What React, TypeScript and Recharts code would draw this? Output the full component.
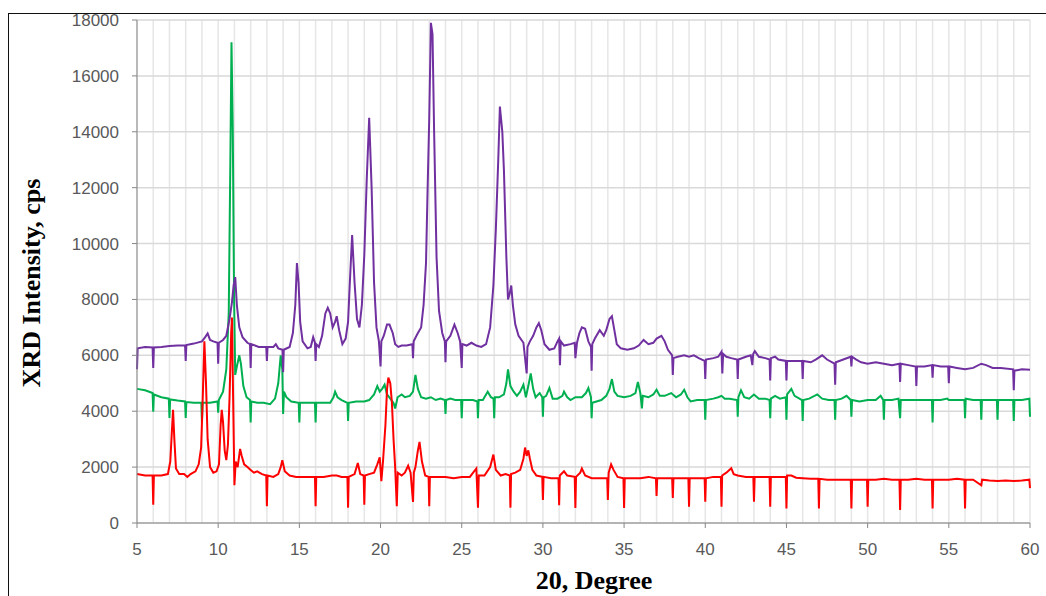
import { LineChart, Line, XAxis, YAxis, CartesianGrid } from "recharts"

// 2-theta (deg) / intensity (cps) pairs
const purplePoints: [number, number][] = [
  [5, 5500], [5.04, 6250], [5.5, 6300], [5.96, 6280], [6.0, 5550], [6.04, 6280], [6.5, 6300], [7.0, 6330],
  [7.5, 6350], [7.96, 6350], [8.0, 5800], [8.04, 6370], [8.5, 6420], [9.0, 6500], [9.2, 6650], [9.35, 6780],
  [9.5, 6550], [9.7, 6500], [9.96, 6450], [10.0, 5700], [10.04, 6450], [10.3, 6550], [10.5, 6700], [10.7, 7300],
  [10.85, 7900], [10.95, 8500], [11.05, 8800], [11.15, 7800], [11.3, 7000], [11.5, 6650], [11.8, 6450], [11.96, 6400],
  [12.0, 5550], [12.04, 6400], [12.5, 6300], [12.96, 6300], [13.0, 5800], [13.04, 6300], [13.4, 6300], [13.55, 6400],
  [13.7, 6250], [13.96, 6200], [14.0, 5400], [14.04, 6200], [14.4, 6300], [14.6, 6800], [14.75, 7800], [14.85, 9300],
  [14.95, 8600], [15.05, 7200], [15.2, 6500], [15.5, 6250], [15.7, 6300], [15.85, 6650], [15.96, 6450], [16.0, 5800],
  [16.04, 6400], [16.2, 6300], [16.4, 6700], [16.6, 7500], [16.75, 7700], [16.9, 7500], [17.05, 7000], [17.2, 7200],
  [17.3, 7400], [17.45, 6900], [17.65, 6400], [17.85, 6600], [18.0, 7200], [18.1, 8500], [18.25, 10300], [18.4, 8600],
  [18.55, 7300], [18.7, 7000], [18.85, 7800], [19.0, 9600], [19.15, 12300], [19.3, 14500], [19.45, 12000], [19.6, 8600],
  [19.75, 7000], [19.9, 6500], [20.0, 5600], [20.05, 6500], [20.2, 6700], [20.4, 7100], [20.55, 7100], [20.75, 6800],
  [20.9, 6400], [21.1, 6300], [21.3, 6350], [21.6, 6350], [21.96, 6400], [22.0, 5900], [22.04, 6500], [22.3, 6800],
  [22.5, 7000], [22.65, 7800], [22.8, 9300], [22.9, 12000], [23.0, 14500], [23.1, 17900], [23.2, 17500], [23.3, 14000],
  [23.45, 9500], [23.6, 7600], [23.8, 6800], [23.96, 6500], [24.0, 5750], [24.04, 6500], [24.3, 6700], [24.55, 7100],
  [24.75, 6800], [24.9, 6500], [25.0, 5550], [25.04, 6400], [25.3, 6350], [25.6, 6450], [25.9, 6350], [26.2, 6300],
  [26.5, 6400], [26.75, 7000], [26.95, 8500], [27.1, 10500], [27.25, 13000], [27.35, 14900], [27.5, 14000], [27.6, 12600],
  [27.75, 9500], [27.85, 8000], [27.95, 8200], [28.05, 8500], [28.15, 7800], [28.3, 7100], [28.5, 6700], [28.8, 6450],
  [29.0, 5350], [29.05, 6300], [29.2, 6500], [29.4, 6700], [29.6, 7000], [29.75, 7150], [29.9, 6900], [30.1, 6400],
  [30.4, 6200], [30.7, 6250], [30.9, 6500], [31.0, 6600], [31.05, 5650], [31.1, 6500], [31.3, 6350], [31.7, 6400],
  [31.96, 6450], [32.0, 5900], [32.1, 6450], [32.25, 6800], [32.4, 7000], [32.6, 6950], [32.8, 6500], [32.96, 6300],
  [33.0, 5450], [33.04, 6400], [33.2, 6600], [33.5, 6900], [33.75, 6700], [33.9, 6900], [34.1, 7300], [34.25, 7400],
  [34.4, 6900], [34.55, 6400], [34.8, 6250], [35.2, 6200], [35.6, 6250], [35.9, 6350], [36.2, 6550], [36.5, 6400],
  [36.8, 6450], [37.0, 6600], [37.3, 6700], [37.5, 6500], [37.7, 6200], [37.96, 6000], [38.0, 5300], [38.04, 5900],
  [38.3, 5950], [38.7, 6000], [39.0, 5950], [39.3, 6000], [39.6, 5900], [39.96, 5800], [40.0, 5150], [40.04, 5850],
  [40.5, 5900], [40.8, 5950], [41.0, 6130], [41.05, 5350], [41.1, 6050], [41.3, 5950], [41.6, 5900], [41.96, 5850],
  [42.0, 5150], [42.04, 5850], [42.5, 5950], [42.8, 6000], [42.9, 5650], [42.95, 6050], [43.05, 6150], [43.3, 5950],
  [43.7, 5900], [43.96, 5850], [44.0, 5100], [44.04, 5900], [44.3, 5950], [44.5, 5850], [44.96, 5800], [45.0, 5100],
  [45.04, 5800], [45.5, 5800], [45.96, 5800], [46.0, 5150], [46.04, 5800], [46.5, 5750], [46.8, 5850], [47.2, 6000],
  [47.5, 5850], [47.96, 5700], [48.0, 4950], [48.04, 5750], [48.5, 5850], [48.96, 5950], [49.0, 5600], [49.04, 5950],
  [49.3, 5850], [49.6, 5750], [50.0, 5700], [50.5, 5750], [51.0, 5700], [51.5, 5650], [51.96, 5700], [52.0, 5050],
  [52.04, 5700], [52.5, 5650], [52.96, 5600], [53.0, 4900], [53.04, 5600], [53.5, 5600], [53.96, 5650], [54.0, 5200],
  [54.04, 5650], [54.5, 5600], [54.96, 5600], [55.0, 5000], [55.04, 5600], [55.5, 5550], [56.0, 5500], [56.5, 5550],
  [57.0, 5700], [57.3, 5650], [57.7, 5550], [58.2, 5550], [58.96, 5500], [59.0, 4750], [59.04, 5450], [59.5, 5500],
  [60, 5480],
]

const greenPoints: [number, number][] = [
  [5, 4800], [5.5, 4750], [5.96, 4650], [6.0, 3980], [6.04, 4600], [6.5, 4500], [6.96, 4450], [7.0, 3760],
  [7.04, 4420], [7.5, 4380], [7.96, 4350], [8.0, 3760], [8.04, 4330], [8.5, 4300], [8.96, 4300], [9.0, 3600],
  [9.04, 4300], [9.5, 4300], [9.96, 4350], [10.0, 3950], [10.04, 4400], [10.3, 4700], [10.5, 5500], [10.65, 7500],
  [10.75, 13000], [10.82, 17200], [10.9, 14000], [10.98, 8000], [11.05, 5300], [11.15, 5600], [11.3, 6000], [11.4, 5700],
  [11.55, 4900], [11.75, 4500], [11.96, 4400], [12.0, 3600], [12.04, 4350], [12.4, 4300], [12.8, 4300], [13.2, 4250],
  [13.5, 4450], [13.7, 5000], [13.85, 6000], [13.95, 5500], [14.0, 3900], [14.05, 4700], [14.2, 4500], [14.5, 4350],
  [14.96, 4300], [15.0, 3600], [15.04, 4300], [15.5, 4300], [15.96, 4300], [16.0, 3600], [16.04, 4300], [16.5, 4300],
  [16.9, 4300], [17.1, 4500], [17.2, 4700], [17.35, 4500], [17.6, 4400], [17.96, 4300], [18.0, 3650], [18.04, 4300],
  [18.5, 4350], [19.0, 4350], [19.3, 4400], [19.6, 4600], [19.8, 4900], [19.95, 4700], [20.1, 4800], [20.25, 4950],
  [20.4, 4600], [20.6, 4450], [20.8, 4300], [20.9, 4100], [21.05, 4500], [21.3, 4600], [21.5, 4500], [21.8, 4550],
  [22.0, 4700], [22.15, 5300], [22.3, 4800], [22.5, 4500], [22.8, 4450], [23.1, 4500], [23.4, 4400], [23.7, 4450],
  [23.96, 4400], [24.0, 3900], [24.04, 4400], [24.3, 4450], [24.6, 4400], [24.96, 4400], [25.0, 3750], [25.04, 4400],
  [25.4, 4400], [25.7, 4400], [25.96, 4350], [26.0, 3750], [26.04, 4400], [26.3, 4400], [26.6, 4700], [26.8, 4500],
  [26.96, 4450], [27.0, 3750], [27.04, 4500], [27.3, 4500], [27.6, 4600], [27.75, 5000], [27.85, 5500], [28.0, 4900],
  [28.2, 4700], [28.4, 4550], [28.6, 4700], [28.8, 4950], [28.95, 4500], [29.1, 4900], [29.25, 5350], [29.4, 4800],
  [29.55, 4500], [29.8, 4650], [29.96, 4500], [30.0, 3800], [30.04, 4500], [30.2, 4550], [30.4, 4830], [30.6, 4450],
  [30.9, 4450], [31.2, 4550], [31.3, 4700], [31.5, 4500], [31.7, 4400], [32.0, 4500], [32.4, 4500], [32.65, 4650],
  [32.8, 4830], [32.96, 4500], [33.0, 3750], [33.04, 4300], [33.3, 4350], [33.6, 4400], [33.9, 4550], [34.1, 4800],
  [34.25, 5150], [34.4, 4700], [34.6, 4550], [35.0, 4500], [35.4, 4550], [35.7, 4650], [35.85, 5050], [36.0, 4650],
  [36.1, 4100], [36.15, 4550], [36.5, 4500], [36.8, 4600], [37.0, 4770], [37.2, 4550], [37.5, 4550], [37.9, 4650],
  [38.2, 4500], [38.5, 4600], [38.7, 4770], [38.9, 4500], [39.1, 4350], [39.5, 4400], [39.96, 4400], [40.0, 3700],
  [40.04, 4400], [40.5, 4450], [40.8, 4500], [41.0, 4550], [41.2, 4450], [41.5, 4450], [41.96, 4400], [42.0, 3800],
  [42.04, 4500], [42.2, 4750], [42.4, 4500], [42.7, 4450], [43.0, 4600], [43.3, 4450], [43.7, 4450], [43.96, 4400],
  [44.0, 3750], [44.04, 4450], [44.3, 4550], [44.6, 4450], [44.96, 4500], [45.0, 3700], [45.04, 4600], [45.3, 4800],
  [45.5, 4550], [45.96, 4400], [46.0, 3650], [46.04, 4400], [46.4, 4450], [46.9, 4600], [47.2, 4450], [47.6, 4400],
  [47.96, 4400], [48.0, 3700], [48.04, 4400], [48.4, 4450], [48.7, 4550], [48.96, 4400], [49.0, 3800], [49.04, 4400],
  [49.5, 4350], [50.0, 4400], [50.5, 4400], [50.8, 4550], [50.96, 4400], [51.0, 3700], [51.04, 4400], [51.5, 4400],
  [51.9, 4450], [52.0, 3750], [52.04, 4400], [52.5, 4400], [53.0, 4400], [53.5, 4400], [53.96, 4400], [54.0, 3600],
  [54.04, 4400], [54.5, 4400], [54.9, 4450], [55.0, 4400], [55.5, 4400], [55.96, 4400], [56.0, 3750], [56.04, 4450],
  [56.5, 4400], [56.96, 4400], [57.0, 3700], [57.04, 4400], [57.5, 4400], [57.96, 4400], [58.0, 3700], [58.04, 4400],
  [58.5, 4400], [58.96, 4400], [59.0, 3650], [59.04, 4400], [59.5, 4400], [59.96, 4450], [60.0, 3800],
]

const redPoints: [number, number][] = [
  [5, 1750], [5.5, 1700], [5.96, 1700], [6.0, 650], [6.04, 1700], [6.5, 1700], [6.9, 1750], [7.05, 2200],
  [7.15, 3300], [7.22, 4050], [7.3, 3000], [7.4, 1950], [7.6, 1750], [7.9, 1750], [8.1, 1650], [8.3, 1750],
  [8.6, 1850], [8.8, 2100], [8.95, 2700], [9.05, 4500], [9.15, 6500], [9.25, 5000], [9.35, 3000], [9.5, 2000],
  [9.7, 1800], [9.9, 1850], [10.05, 2100], [10.15, 3500], [10.22, 4050], [10.3, 3600], [10.4, 2600], [10.5, 2250],
  [10.6, 2800], [10.7, 4500], [10.8, 6800], [10.85, 7350], [10.92, 4500], [11.0, 1350], [11.08, 2200], [11.2, 2000],
  [11.35, 2650], [11.45, 2400], [11.6, 2100], [11.8, 2000], [12.0, 1900], [12.2, 1800], [12.4, 1850], [12.7, 1750],
  [12.96, 1700], [13.0, 600], [13.04, 1700], [13.4, 1650], [13.7, 1750], [13.85, 2000], [13.95, 2250], [14.1, 1850],
  [14.4, 1700], [14.8, 1650], [15.3, 1650], [15.96, 1650], [16.0, 600], [16.04, 1650], [16.5, 1650], [17.0, 1700],
  [17.3, 1700], [17.6, 1650], [17.96, 1650], [18.0, 550], [18.04, 1650], [18.4, 1750], [18.6, 2150], [18.75, 1750],
  [18.96, 1700], [19.0, 650], [19.04, 1700], [19.3, 1750], [19.6, 1800], [19.8, 2100], [19.95, 2350], [20.05, 1500],
  [20.15, 2200], [20.3, 3500], [20.4, 4800], [20.48, 5200], [20.6, 5000], [20.7, 4300], [20.8, 3000], [20.9, 2000],
  [21.0, 600], [21.06, 1800], [21.3, 1700], [21.5, 1800], [21.7, 2050], [21.85, 1800], [22.0, 750], [22.05, 1800],
  [22.15, 2000], [22.3, 2600], [22.4, 2900], [22.55, 2200], [22.75, 1700], [22.96, 1650], [23.0, 600], [23.04, 1650],
  [23.5, 1650], [24.0, 1650], [24.5, 1600], [25.0, 1650], [25.5, 1650], [25.9, 1950], [26.0, 550], [26.05, 1700],
  [26.4, 1700], [26.75, 2000], [26.95, 2450], [27.1, 1900], [27.4, 1700], [27.7, 1750], [27.96, 1700], [28.0, 550],
  [28.04, 1750], [28.3, 1800], [28.6, 1900], [28.8, 2300], [28.9, 2700], [29.0, 2400], [29.1, 2600], [29.2, 2300],
  [29.35, 1900], [29.6, 1700], [29.96, 1650], [30.0, 820], [30.04, 1650], [30.5, 1600], [30.96, 1600], [31.0, 640],
  [31.04, 1700], [31.3, 1850], [31.5, 1700], [31.96, 1650], [32.0, 540], [32.04, 1650], [32.3, 1800], [32.4, 1950],
  [32.6, 1700], [33.0, 1600], [33.5, 1600], [33.96, 1600], [34.0, 820], [34.05, 1800], [34.2, 2100], [34.35, 1900],
  [34.6, 1650], [34.96, 1600], [35.0, 540], [35.04, 1600], [35.5, 1600], [36.0, 1600], [36.5, 1650], [36.96, 1600],
  [37.0, 970], [37.04, 1600], [37.5, 1600], [37.96, 1600], [38.0, 900], [38.04, 1600], [38.5, 1600], [38.96, 1600],
  [39.0, 580], [39.04, 1600], [39.5, 1600], [39.96, 1600], [40.0, 760], [40.04, 1600], [40.5, 1650], [40.96, 1650],
  [41.0, 580], [41.04, 1700], [41.3, 1800], [41.6, 1960], [41.75, 1750], [42.0, 1700], [42.5, 1650], [42.96, 1650],
  [43.0, 760], [43.04, 1650], [43.5, 1650], [43.96, 1650], [44.0, 580], [44.04, 1650], [44.5, 1650], [44.96, 1650],
  [45.0, 520], [45.04, 1700], [45.3, 1700], [45.6, 1620], [46.0, 1600], [46.5, 1580], [46.96, 1580], [47.0, 520],
  [47.04, 1580], [47.5, 1550], [48.0, 1550], [48.5, 1550], [48.96, 1550], [49.0, 520], [49.04, 1550], [49.5, 1550],
  [49.96, 1550], [50.0, 580], [50.04, 1550], [50.5, 1550], [51.0, 1580], [51.5, 1550], [51.96, 1550], [52.0, 470],
  [52.04, 1550], [52.5, 1550], [53.0, 1580], [53.5, 1550], [53.96, 1550], [54.0, 520], [54.04, 1550], [54.5, 1550],
  [55.0, 1550], [55.5, 1580], [55.96, 1550], [56.0, 520], [56.04, 1550], [56.5, 1550], [57.0, 1350], [57.05, 1550],
  [57.5, 1520], [58.0, 1500], [58.5, 1520], [59.0, 1500], [59.5, 1520], [59.96, 1550], [60.0, 1250],
]

const xMajorTicks = [5, 10, 15, 20, 25, 30, 35, 40, 45, 50, 55, 60]
const xMinorTicks = [
  5, 6, 7, 8, 9, 10, 11, 12, 13, 14, 15, 16, 17, 18, 19, 20, 21, 22, 23, 24, 25, 26, 27, 28, 29, 30, 31, 32,
  33, 34, 35, 36, 37, 38, 39, 40, 41, 42, 43, 44, 45, 46, 47, 48, 49, 50, 51, 52, 53, 54, 55, 56, 57, 58, 59, 60,
]
const yTicks = [0, 2000, 4000, 6000, 8000, 10000, 12000, 14000, 16000, 18000]

const xTitle = "20, Degree"
const yTitle = "XRD Intensity, cps"

const toRows = (pts: [number, number][]) => pts.map(([deg, cps]) => ({ deg, cps }))

const tickFont = "'Liberation Sans', Arial, sans-serif"
const tickStyle = { fontSize: 17, fill: "#595959", fontFamily: tickFont }
const titleFont = "'Liberation Serif', 'Times New Roman', serif"

// the axis carries a tick every degree (for the grid); only every 5th gets a mark and label
function DegreeTick({ x, y, payload }: any) {
  if (!xMajorTicks.includes(payload.value)) return <g />
  return (
    <g>
      <line x1={x} x2={x} y1={y - 20} y2={y - 15} stroke="#868686" />
      <text x={x} y={y} dy="0.71em" textAnchor="middle" fontSize={17} fill="#595959" fontFamily={tickFont}>
        {payload.value}
      </text>
    </g>
  )
}

export default function App() {
  return (
    <div style={{ position: "absolute", left: 0, top: 0, width: 1046, height: 596, overflow: "hidden", background: "#fff" }}>
      {/* frame around the chart object, cut off on the right and bottom */}
      <div
        style={{
          position: "absolute",
          left: 8,
          top: 13,
          width: 1100,
          height: 700,
          borderLeft: "1px solid #111",
          borderTop: "1px solid #111",
        }}
      />
      <div style={{ position: "absolute", left: 0, top: 0 }}>
        <LineChart width={1046} height={596} margin={{ top: 20, right: 16, bottom: 0, left: 0 }}>
          <CartesianGrid horizontal={false} stroke="#e6e6e6" strokeWidth={1.5} />
          <CartesianGrid vertical={false} stroke="#d9d9d9" strokeWidth={1.5} />
          <XAxis
            type="number"
            dataKey="deg"
            domain={[5, 60]}
            ticks={xMinorTicks}
            interval={0}
            height={73}
            tickSize={5}
            tickMargin={15}
            tickLine={false}
            stroke="#868686"
            tick={<DegreeTick />}
          />
          <YAxis
            type="number"
            domain={[0, 18000]}
            ticks={yTicks}
            width={137}
            tickSize={5}
            tickMargin={13}
            stroke="#868686"
            tick={tickStyle}
          />
          <Line data={toRows(greenPoints)} dataKey="cps" stroke="#00B050" strokeWidth={2} dot={false} isAnimationActive={false} />
          <Line data={toRows(purplePoints)} dataKey="cps" stroke="#7030A0" strokeWidth={2} dot={false} isAnimationActive={false} />
          <Line data={toRows(redPoints)} dataKey="cps" stroke="#FF0000" strokeWidth={2} dot={false} isAnimationActive={false} />
        </LineChart>
      </div>
      <div
        style={{
          position: "absolute",
          left: 32 - 160,
          top: 283 - 15,
          width: 320,
          height: 30,
          lineHeight: "30px",
          textAlign: "center",
          transform: "rotate(-90deg)",
          fontFamily: titleFont,
          fontWeight: "bold",
          fontSize: 26,
          color: "#000",
          whiteSpace: "nowrap",
        }}
      >
        {yTitle}
      </div>
      <div
        style={{
          position: "absolute",
          left: 594 - 150,
          top: 568,
          width: 300,
          lineHeight: "26px",
          textAlign: "center",
          fontFamily: titleFont,
          fontWeight: "bold",
          fontSize: 26,
          color: "#000",
          whiteSpace: "nowrap",
        }}
      >
        {xTitle}
      </div>
    </div>
  )
}
